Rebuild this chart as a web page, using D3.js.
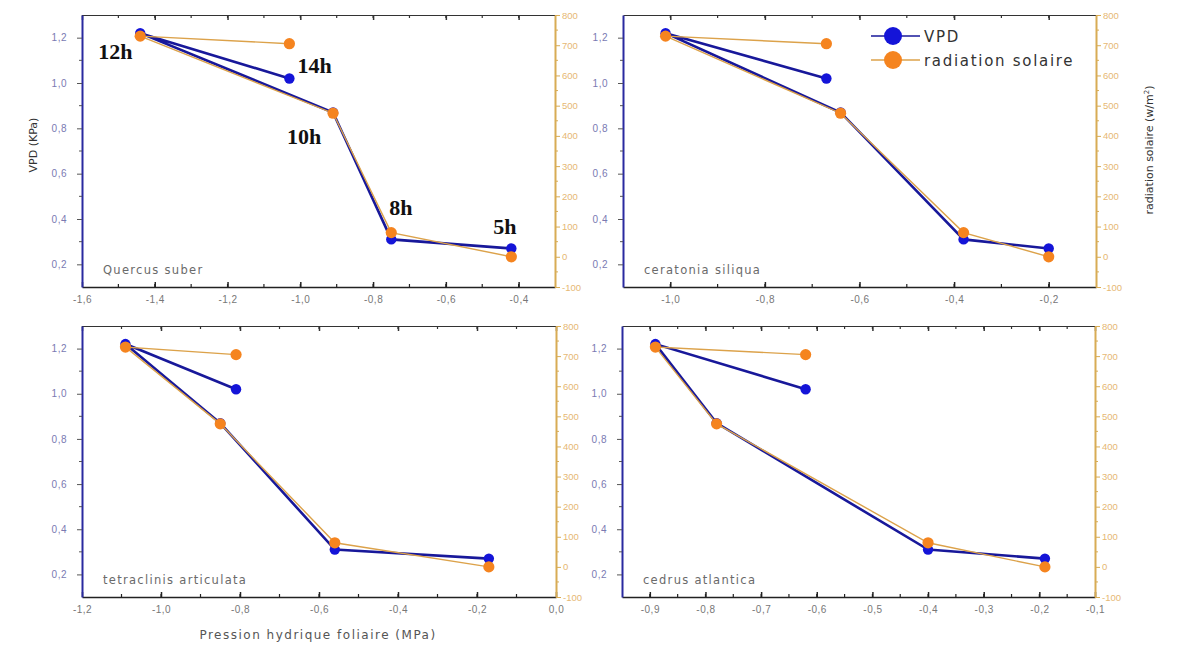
<!DOCTYPE html>
<html>
<head>
<meta charset="utf-8">
<script src="https://cdn.jsdelivr.net/npm/d3@7"></script>
<style>
  body { margin: 0; background: #fff; }
  svg { display: block; font-family: "DejaVu Sans", sans-serif; }
</style>
</head>
<body>
<div id="vis"></div>
<script>
// ---- data ----
const hours = ["5h", "8h", "10h", "12h", "14h"];
const vpd = [0.27, 0.31, 0.87, 1.22, 1.02];          // KPa
const radiation = [0, 80, 475, 730, 705];             // w/m2
const species = ["Quercus suber", "ceratonia siliqua", "tetraclinis articulata", "cedrus atlantica"];
const psiQuercus = [-0.42, -0.75, -0.91, -1.44, -1.03];
const psiCeratonia = [-0.20, -0.38, -0.64, -1.01, -0.67];
const psiTetraclinis = [-0.17, -0.56, -0.85, -1.09, -0.81];
const psiCedrus = [-0.19, -0.40, -0.78, -0.89, -0.62];
const xDomains = [[-1.6, -0.3], [-1.1, -0.1], [-1.2, 0.0], [-0.95, -0.1]];
const xTicks = [
  [-1.6, -1.4, -1.2, -1.0, -0.8, -0.6, -0.4],
  [-1.0, -0.8, -0.6, -0.4, -0.2],
  [-1.2, -1.0, -0.8, -0.6, -0.4, -0.2, 0.0],
  [-0.9, -0.8, -0.7, -0.6, -0.5, -0.4, -0.3, -0.2, -0.1]
];
const vpdTicks = [0.2, 0.4, 0.6, 0.8, 1.0, 1.2];
const radTicks = [-100, 0, 100, 200, 300, 400, 500, 600, 700, 800];

const width = 1200, height = 671;
const blue = "#1414d8", blueLine = "#18189a", orange = "#f5841f", orangeLine = "#dca24a";
const leftAxisCol = "#2a2aa0", rightAxisCol = "#d8ac55";

const svg = d3.select("#vis").append("svg")
  .attr("width", width).attr("height", height);

// panel boxes (pixel frames)
const boxes = [
  { x0: 82, x1: 555, y0: 15, y1: 287 },
  { x0: 623, x1: 1096, y0: 15, y1: 287 },
  { x0: 82, x1: 556, y0: 326, y1: 597 },
  { x0: 622, x1: 1095, y0: 326, y1: 597 }
];
const psis = [psiQuercus, psiCeratonia, psiTetraclinis, psiCedrus];
const fmt = v => d3.format(".1f")(v).replace(".", ",").replace("−", "-");

boxes.forEach((b, i) => drawPanel(b, i));

function drawPanel(b, i) {
  const x = d3.scaleLinear().domain(xDomains[i]).range([b.x0, b.x1]);
  const yL = d3.scaleLinear().domain([0.1, 1.3]).range([b.y1, b.y0]);
  const yR = d3.scaleLinear().domain([-100, 800]).range([b.y1, b.y0]);
  const g = svg.append("g");

  // x minor ticks at half steps
  const step = xTicks[i][1] - xTicks[i][0];
  const minorXs = d3.range(Math.ceil(xDomains[i][0] / (step / 2) - 1e-6), Math.floor(xDomains[i][1] / (step / 2) + 1e-6) + 1)
    .map(k => k * step / 2).filter(v => v > xDomains[i][0] + 1e-6 && v < xDomains[i][1] - 1e-6);

  // bottom axis
  const bottom = g.append("g").attr("transform", `translate(0,${b.y1})`)
    .call(d3.axisBottom(x).tickValues(xTicks[i]).tickFormat(fmt).tickSizeInner(-5).tickSizeOuter(0).tickPadding(9));
  bottom.select(".domain").attr("stroke", "#222").attr("stroke-width", 1.5);
  bottom.selectAll(".tick line").attr("stroke", "#222").attr("stroke-width", 1.5);
  bottom.selectAll("text").attr("fill", "#777").attr("font-size", 10).style("letter-spacing", "0.5px");
  bottom.selectAll(".minor").data(minorXs).enter().append("line")
    .attr("x1", d => x(d)).attr("x2", d => x(d)).attr("y1", 0).attr("y2", -3)
    .attr("stroke", "#222").attr("stroke-width", 1.2);

  // top frame with ticks
  const top = g.append("g").attr("transform", `translate(0,${b.y0})`)
    .call(d3.axisTop(x).tickValues(xTicks[i]).tickFormat("").tickSizeInner(-5).tickSizeOuter(0));
  top.select(".domain").attr("stroke", "#333").attr("stroke-width", 1.2);
  top.selectAll(".tick line").attr("stroke", "#333").attr("stroke-width", 1.5);
  top.selectAll(".minor").data(minorXs).enter().append("line")
    .attr("x1", d => x(d)).attr("x2", d => x(d)).attr("y1", 0).attr("y2", 3)
    .attr("stroke", "#333").attr("stroke-width", 1.2);

  // left VPD axis
  const left = g.append("g").attr("transform", `translate(${b.x0},0)`)
    .call(d3.axisLeft(yL).tickValues(vpdTicks).tickFormat(fmt).tickSizeInner(5).tickSizeOuter(0).tickPadding(10));
  left.select(".domain").attr("stroke", leftAxisCol).attr("stroke-width", 2);
  left.selectAll(".tick line").attr("stroke", "#555");
  left.selectAll("text").attr("fill", "#7a7ab2").attr("font-size", 10).style("letter-spacing", "0.5px");
  left.selectAll(".minor").data(d3.range(0.3, 1.3, 0.2)).enter().append("line")
    .attr("x1", 0).attr("x2", -3).attr("y1", d => yL(d)).attr("y2", d => yL(d)).attr("stroke", "#555");

  // right radiation axis
  const right = g.append("g").attr("transform", `translate(${b.x1},0)`)
    .call(d3.axisRight(yR).tickValues(radTicks).tickFormat(d3.format("d")).tickSizeInner(5).tickSizeOuter(0).tickPadding(2));
  right.select(".domain").attr("stroke", rightAxisCol).attr("stroke-width", 2);
  right.selectAll(".tick line").attr("stroke", rightAxisCol);
  right.selectAll("text").attr("fill", "#e6b874").attr("font-size", 9.5).text(d => d3.format("d")(d).replace("−", "-"));
  right.selectAll(".minor").data(d3.range(-50, 800, 100)).enter().append("line")
    .attr("x1", 0).attr("x2", 3).attr("y1", d => yR(d)).attr("y2", d => yR(d)).attr("stroke", rightAxisCol);

  const psi = psis[i];
  const vpdPts = hours.map((h, k) => ({ h, x: psi[k], y: vpd[k] }));
  const radPts = hours.map((h, k) => ({ h, x: psi[k], y: radiation[k] }));

  // VPD series
  g.append("path").datum(vpdPts)
    .attr("d", d3.line().x(d => x(d.x)).y(d => yL(d.y)))
    .attr("fill", "none").attr("stroke", blueLine).attr("stroke-width", 2.6);
  g.selectAll(".pv").data(vpdPts).enter().append("circle")
    .attr("cx", d => x(d.x)).attr("cy", d => yL(d.y)).attr("r", 5.2).attr("fill", blue);

  // radiation series
  g.append("path").datum(radPts)
    .attr("d", d3.line().x(d => x(d.x)).y(d => yR(d.y)))
    .attr("fill", "none").attr("stroke", orangeLine).attr("stroke-width", 1.4);
  g.selectAll(".pr").data(radPts).enter().append("circle")
    .attr("cx", d => x(d.x)).attr("cy", d => yR(d.y)).attr("r", 5.6).attr("fill", orange);

  // species name
  g.append("text").attr("x", b.x0 + 21).attr("y", b.y1 - 13)
    .attr("fill", "#6a6a6a").attr("font-size", 11.5).style("letter-spacing", "1.3px")
    .text(species[i]);

  // hour annotations on the first panel only
  if (i === 0) {
    const offs = { "5h": [-18, -14], "8h": [-2, -24], "10h": [-46, 32], "12h": [-42, 26], "14h": [8, -5] };
    g.selectAll(".hl").data(vpdPts).enter().append("text")
      .attr("x", d => x(d.x) + offs[d.h][0])
      .attr("y", d => yL(d.y) + offs[d.h][1])
      .attr("font-family", "Liberation Serif, serif").attr("font-weight", "bold")
      .attr("font-size", 22).attr("fill", "#111")
      .text(d => d.h);
  }
}

// legend (top-right panel)
const legend = svg.append("g");
const legendItems = [["VPD", blue, blueLine], ["radiation solaire", orange, orangeLine]];
legendItems.forEach(([label, c, lc], k) => {
  const ly = 36 + k * 24;
  legend.append("line").attr("x1", 871).attr("x2", 920).attr("y1", ly).attr("y2", ly)
    .attr("stroke", lc).attr("stroke-width", 1.6);
  legend.append("circle").attr("cx", 893).attr("cy", ly).attr("r", 9).attr("fill", c);
  legend.append("text").attr("x", 924).attr("y", ly + 5.5).attr("font-size", 15)
    .attr("fill", "#333").style("letter-spacing", "1.7px").text(label);
});

// axis titles
svg.append("text").attr("transform", "translate(37,145) rotate(-90)")
  .attr("text-anchor", "middle").attr("font-size", 11).attr("fill", "#333").text("VPD (KPa)");
svg.append("text").attr("transform", "translate(1153,150) rotate(-90)")
  .attr("text-anchor", "middle").attr("font-size", 11).attr("fill", "#333")
  .html("radiation solaire (w/m<tspan dy='-4' font-size='7'>2</tspan><tspan dy='4'>)</tspan>");
svg.append("text").attr("x", 318).attr("y", 639)
  .attr("text-anchor", "middle").attr("font-size", 12).attr("fill", "#555")
  .style("letter-spacing", "1.5px").text("Pression hydrique foliaire (MPa)");
</script>
</body>
</html>
